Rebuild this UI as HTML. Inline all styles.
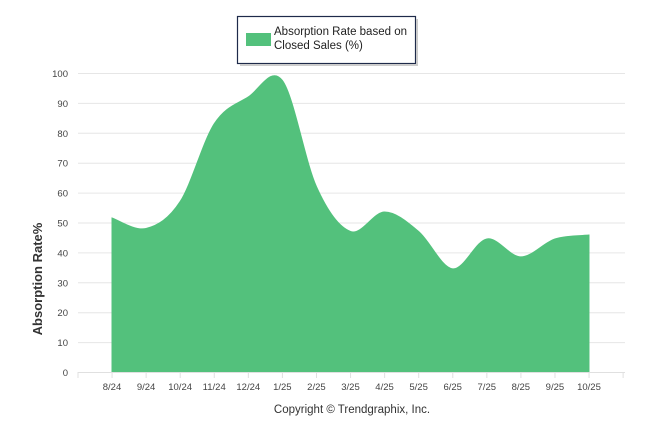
<!DOCTYPE html>
<html><head><meta charset="utf-8"><style>
body{margin:0;background:#fff;width:646px;height:434px;overflow:hidden}
text{font-family:"Liberation Sans",sans-serif}
</style></head><body>
<svg id="s" width="646" height="434" xmlns="http://www.w3.org/2000/svg">
<g id="grid"></g>
<path id="area" fill="#53c17c" stroke="#53c17c" stroke-width="1"/>
<line x1="78" y1="372.5" x2="625" y2="372.5" stroke="#e0e0e0"/>
<g id="lbl" font-size="9.5" fill="#444"></g>
<rect x="237.5" y="16.5" width="178" height="47" fill="#fff" stroke="#1e2a4a" stroke-width="1.2"/>
<rect x="240" y="64" width="177" height="2" fill="#ccc"/>
<rect x="416" y="19" width="2" height="47" fill="#ccc"/>
<rect x="246" y="33" width="25" height="13" fill="#53c17c"/>
<text x="274" y="35" font-size="11.5" fill="#222">Absorption Rate based on</text>
<text x="274" y="49" font-size="11.5" fill="#222">Closed Sales (%)</text>
<text transform="translate(42,279) rotate(-90)" text-anchor="middle" font-size="13" font-weight="bold" fill="#333">Absorption Rate%</text>
<text x="352" y="413" text-anchor="middle" font-size="11.5" fill="#333">Copyright © Trendgraphix, Inc.</text>
</svg>
<script>
var vals=[51.5,48,57,83,92,97.5,62,47,53.5,47,34.5,44.5,38.5,44.5,45.8];
var labs=["8/24","9/24","10/24","11/24","12/24","1/25","2/25","3/25","4/25","5/25","6/25","7/25","8/25","9/25","10/25"];
function X(i){return 112+i*34.07}function Y(v){return 372-v*2.99}
var g=document.getElementById('grid'),l=document.getElementById('lbl'),h='',t='';
for(var v=0;v<=100;v+=10){var y=Y(v);if(v>0)h+='<line x1="78" x2="625" y1="'+(y+.5)+'" y2="'+(y+.5)+'" stroke="#e6e6e6"/>';t+='<text x="68" y="'+(y+4)+'" text-anchor="end">'+v+'</text>';}
for(var i=0;i<15;i++){t+='<text x="'+X(i)+'" y="390" text-anchor="middle">'+labs[i]+'</text>';}
for(var i=0;i<=16;i++){var x=78+i*34.07;h+='<line x1="'+x+'" x2="'+x+'" y1="372" y2="378" stroke="#e0e0e0"/>';}
g.innerHTML=h;l.innerHTML=t;
var p=vals.map(function(v,i){return[X(i),Y(v)]});
var d='M'+p[0][0]+','+Y(0)+' L'+p[0][0]+','+p[0][1];
for(var i=0;i<p.length-1;i++){var p0=p[Math.max(i-1,0)],p1=p[i],p2=p[i+1],p3=p[Math.min(i+2,p.length-1)];
var c1=[p1[0]+(p2[0]-p0[0])/6,p1[1]+(p2[1]-p0[1])/6],c2=[p2[0]-(p3[0]-p1[0])/6,p2[1]-(p3[1]-p1[1])/6];
d+=' C'+c1+' '+c2+' '+p2;}
d+=' L'+p[p.length-1][0]+','+Y(0)+' Z';
document.getElementById('area').setAttribute('d',d);
</script>
</body></html>
